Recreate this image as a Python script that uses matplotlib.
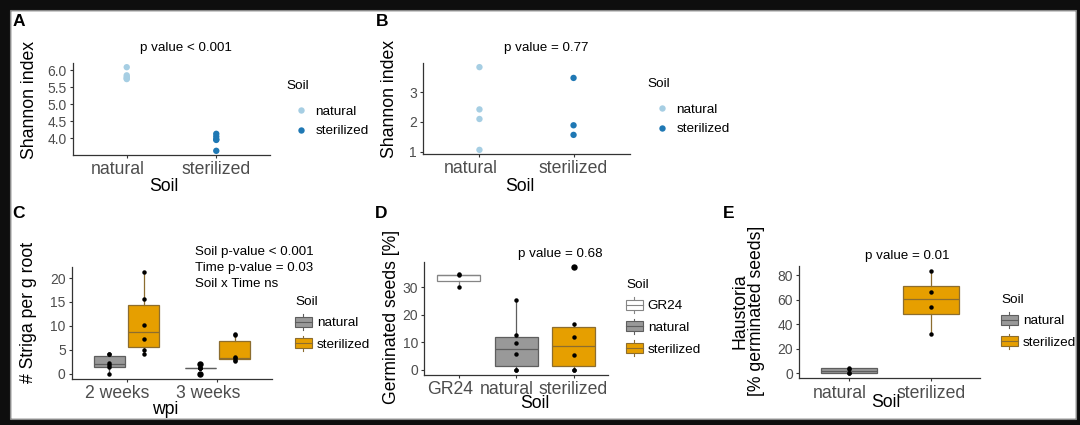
import numpy as np
import matplotlib
matplotlib.use('Agg')
import matplotlib.pyplot as plt
from matplotlib.patches import Rectangle, Patch
from matplotlib.lines import Line2D
from matplotlib.legend_handler import HandlerBase
from matplotlib.transforms import ScaledTranslation

plt.rcParams['font.family'] = ['Liberation Sans', 'DejaVu Sans']

W, H = 1080, 425

# ---------------- data ----------------
soil_levels = ['natural', 'sterilized']

# A: Shannon index
shannon_a_natural = [6.09, 5.85, 5.80, 5.76, 5.74]
shannon_a_sterilized = [4.13, 4.05, 3.97, 3.95, 3.63]
pval_a = 'p value < 0.001'

# B: Shannon index
shannon_b_natural = [3.83, 2.42, 2.10, 1.07]
shannon_b_sterilized = [3.47, 1.89, 1.57]
pval_b = 'p value = 0.77'

# C: Striga per g root
wpi_levels = ['2 weeks', '3 weeks']
striga_natural = [[0.0, 1.3, 1.7, 2.2, 4.1, 4.2],
                  [0.0, 1.15, 1.15, 1.15, 1.15, 2.0]]
striga_sterilized = [[4.2, 5.0, 7.2, 10.2, 15.6, 21.3],
                     [2.6, 2.9, 3.2, 3.4, 8.0, 8.3]]
stats_c = ['Soil p-value < 0.001', 'Time p-value = 0.03', 'Soil x Time ns']

# D: germinated seeds [%]
germ_levels = ['GR24', 'natural', 'sterilized']
germ_values = [[30.2, 34.3, 34.9],
               [0.0, 0.0, 5.6, 9.8, 12.8, 25.4],
               [0.0, 0.0, 5.3, 11.8, 16.8, 37.4]]
pval_d = 'p value = 0.68'

# E: haustoria [% germinated seeds]
haust_values = [[0.0, 0.0, 3.8, 4.5],
                [32.1, 54.0, 66.8, 83.8]]
pval_e = 'p value = 0.01'

# ---------------- styles ----------------
point_col = {'natural': '#a6cee3', 'sterilized': '#1f78b4'}
box_fill = {'GR24': '#ffffff', 'natural': '#999999', 'sterilized': '#e69f00'}
box_edge = {'GR24': '#858585', 'natural': '#5e5e5e', 'sterilized': '#8c6d2f'}

TICK_X = 12.7
TICK_Y = 10
TITLE = 12.7
SMALL = 9.6

fig = plt.figure(figsize=(W / 100, H / 100), dpi=100)
all_axes = []


def px_axes(box):
    x0, y0, x1, y1 = box
    a = fig.add_axes([x0 / W, 1 - y1 / H, (x1 - x0) / W, (y1 - y0) / H])
    all_axes.append(a)
    return a


def style(ax):
    for s in ['top', 'right']:
        ax.spines[s].set_visible(False)
    for s in ['left', 'bottom']:
        ax.spines[s].set_color('#333333')
        ax.spines[s].set_linewidth(0.9)
    ax.tick_params(length=2.5, width=0.8, color='#333333', labelcolor='#4d4d4d', pad=2)
    ax.tick_params(axis='y', labelsize=TICK_Y)
    ax.tick_params(axis='x', labelsize=TICK_X)


def labels(ax, box, xlabel, ylabel, ylab_right, ylab_cy, xlab_cx, xlab_top):
    x0, y0, x1, y1 = box
    ax.set_xlabel(xlabel, fontsize=TITLE, color='black')
    ax.set_ylabel(ylabel, fontsize=TITLE, color='black', linespacing=1.0)
    ax.yaxis.set_label_coords((ylab_right - x0) / (x1 - x0), (y1 - ylab_cy) / (y1 - y0))
    ax.xaxis.set_label_coords((xlab_cx - x0) / (x1 - x0), (y1 - xlab_top) / (y1 - y0))


def ptext(ax, box, s, cx, cy):
    x0, y0, x1, y1 = box
    ax.text((cx - x0) / (x1 - x0), (y1 - cy) / (y1 - y0), s, transform=ax.transAxes,
            ha='center', va='center', fontsize=SMALL)


class BoxKey(HandlerBase):
    def create_artists(self, legend, orig_handle, xdescent, ydescent, width, height, fontsize, trans):
        fc = orig_handle.get_facecolor()
        ec = orig_handle.get_edgecolor()
        x0, y0 = -xdescent, -ydescent
        cx = x0 + width / 2
        lo = Line2D([cx, cx], [y0, y0 + 0.18 * height], color=ec, lw=0.8, transform=trans)
        hi = Line2D([cx, cx], [y0 + 0.82 * height, y0 + height], color=ec, lw=0.8, transform=trans)
        rect = Rectangle((x0, y0 + 0.18 * height), width, 0.64 * height, facecolor=fc,
                         edgecolor=ec, lw=0.8, transform=trans)
        med = Line2D([x0, x0 + width], [y0 + height / 2] * 2, color=ec, lw=0.8, transform=trans)
        return [lo, hi, rect, med]


def legend(ax, handles, names, left, top, box_keys=False):
    kw = dict(title='Soil', loc='upper left', bbox_to_anchor=(left / W, 1 - top / H),
              bbox_transform=fig.transFigure, frameon=False, fontsize=9.7,
              title_fontsize=9.7, alignment='left', borderpad=0, borderaxespad=0)
    if box_keys:
        kw.update(handlelength=1.25, handleheight=1.4, handletextpad=0.37, labelspacing=0.45,
                  handler_map={Patch: BoxKey()})
    else:
        kw.update(handlelength=2.2, handletextpad=0.0, labelspacing=0.55)
    leg = ax.legend(handles, names, **kw)
    if not box_keys:
        # wider gap between the title and the first key, as in the original
        leg._legend_box.sep = 9.5
    return leg


def draw_box(ax, values, pos, width, level):
    ec = box_edge[level]
    ax.boxplot(values, positions=[pos], widths=width, patch_artist=True, showcaps=False,
               boxprops=dict(facecolor=box_fill[level], edgecolor=ec, linewidth=0.9),
               medianprops=dict(color=ec, linewidth=0.9),
               whiskerprops=dict(color=ec, linewidth=0.9),
               flierprops=dict(marker='o', markerfacecolor='black', markeredgecolor='none',
                               markersize=4.6), manage_ticks=False)
    ax.plot(np.full(len(values), pos), values, 'o', color='black', ms=3.2, mec='none', zorder=5)


# ---------------- panel A ----------------
box_a = (73, 63, 270, 155)
ax = px_axes(box_a)
style(ax)
for i, (lev, vals) in enumerate(zip(soil_levels, [shannon_a_natural, shannon_a_sterilized])):
    ax.scatter(np.full(len(vals), i + 1), vals, s=21, color=point_col[lev], edgecolors='none')
ax.set_xlim(0.4, 2.6)
ax.margins(y=0.05)
ax.set_xticks([1, 2], soil_levels)
ax.set_yticks([4.0, 4.5, 5.0, 5.5, 6.0], ['4.0', '4.5', '5.0', '5.5', '6.0'])
labels(ax, box_a, 'Soil', 'Shannon index', 38, 100, 164, 178)
ptext(ax, box_a, pval_a, 185.5, 48)
legend(ax, [Line2D([], [], ls='', marker='o', ms=4.6, color=point_col[l], mec='none') for l in soil_levels],
       soil_levels, 286, 80)

# ---------------- panel B ----------------
box_b = (423, 63, 630, 154)
ax = px_axes(box_b)
style(ax)
for i, (lev, vals) in enumerate(zip(soil_levels, [shannon_b_natural, shannon_b_sterilized])):
    ax.scatter(np.full(len(vals), i + 1), vals, s=21, color=point_col[lev], edgecolors='none')
ax.set_xlim(0.4, 2.6)
ax.margins(y=0.05)
ax.set_xticks([1, 2], soil_levels)
ax.set_yticks([1, 2, 3])
labels(ax, box_b, 'Soil', 'Shannon index', 398, 99, 519.5, 178)
ptext(ax, box_b, pval_b, 546, 48)
legend(ax, [Line2D([], [], ls='', marker='o', ms=4.6, color=point_col[l], mec='none') for l in soil_levels],
       soil_levels, 647, 78)

# ---------------- panel C ----------------
box_c = (72, 266.7, 272, 378.7)
ax = px_axes(box_c)
style(ax)
for j, wk in enumerate(wpi_levels):
    draw_box(ax, striga_natural[j], j + 1 - 0.19, 0.34, 'natural')
    draw_box(ax, striga_sterilized[j], j + 1 + 0.19, 0.34, 'sterilized')
ax.set_xlim(0.4, 2.6)
ax.margins(y=0.05)
ax.set_xticks([1, 2], wpi_levels)
ax.set_yticks([0, 5, 10, 15, 20])
labels(ax, box_c, 'wpi', '# Striga per g root', 37, 312.5, 165, 401)
ax.text((195 - 72) / 200, (378.7 - 246) / 112, '\n'.join(stats_c), transform=ax.transAxes,
        ha='left', va='top', fontsize=SMALL, linespacing=1.42)
legend(ax, [Patch(facecolor=box_fill[l], edgecolor=box_edge[l]) for l in soil_levels],
       soil_levels, 295, 296, box_keys=True)

# ---------------- panel D ----------------
box_d = (424.3, 261.7, 608, 375)
ax = px_axes(box_d)
style(ax)
for i, lev in enumerate(germ_levels):
    draw_box(ax, germ_values[i], i + 1, 0.75, lev)
ax.set_xlim(0.4, 3.6)
ax.margins(y=0.05)
ax.set_xticks([1, 2, 3], germ_levels)
ax.set_yticks([0, 10, 20, 30])
labels(ax, box_d, 'Soil', 'Germinated seeds [%]', 400, 316.7, 535, 395)
ptext(ax, box_d, pval_d, 560.8, 254)
legend(ax, [Patch(facecolor=box_fill[l], edgecolor=box_edge[l]) for l in germ_levels],
       germ_levels, 626, 279, box_keys=True)

# ---------------- panel E ----------------
box_e = (799.3, 265.7, 980, 378.3)
ax = px_axes(box_e)
style(ax)
for i, lev in enumerate(soil_levels):
    draw_box(ax, haust_values[i], i + 1, 0.68, lev)
ax.set_xlim(0.4, 2.6)
ax.margins(y=0.05)
ax.set_xticks([1, 2], soil_levels)
ax.set_yticks([0, 20, 40, 60, 80])
labels(ax, box_e, 'Soil', 'Haustoria\n[% germinated seeds]', 765, 311, 886, 394)
ptext(ax, box_e, pval_e, 907, 255.7)
legend(ax, [Patch(facecolor=box_fill[l], edgecolor=box_edge[l]) for l in soil_levels],
       soil_levels, 1001, 294, box_keys=True)

# category labels other than "sterilized" sit a little left of their tick in the original
shift = ScaledTranslation(-9 / 100, 0, fig.dpi_scale_trans)
for a in all_axes:
    for lab in a.get_xticklabels():
        if lab.get_text() != 'sterilized':
            lab.set_transform(lab.get_transform() + shift)

# ---------------- panel letters ----------------
for letter, x, y in [('A', 13, 21), ('B', 376, 21), ('C', 12, 213), ('D', 375, 213), ('E', 723, 213)]:
    fig.text(x / W, 1 - y / H, letter, fontsize=12.5, fontweight='bold', ha='left', va='center')

# ---------------- dark frame around the figure ----------------
over = fig.add_axes([0, 0, 1, 1], zorder=20)
over.set_xlim(0, W)
over.set_ylim(H, 0)
over.axis('off')
over.patch.set_alpha(0)
frame = '#0e0e0e'
over.add_patch(Rectangle((0, 0), W, 10, color=frame))
over.add_patch(Rectangle((0, 418.5), W, H - 418.5, color=frame))
over.add_patch(Rectangle((0, 0), 10, H, color=frame))
over.add_patch(Rectangle((1076, 0), 4, H, color=frame))
over.add_patch(Rectangle((10, 10), 1066, 408.5, fill=False, edgecolor='#8a8a8a', lw=0.8))

fig.savefig('out.png', dpi=100)
